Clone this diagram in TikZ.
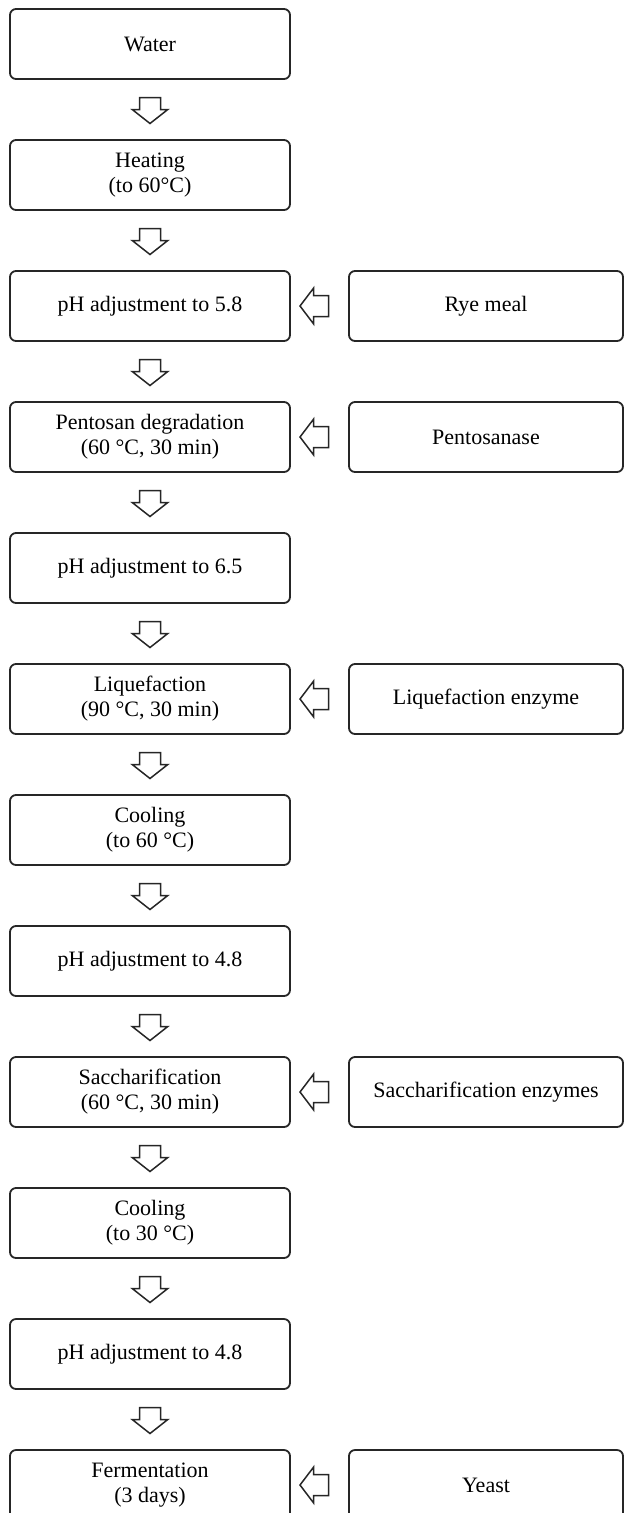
\documentclass[tikz,border=0pt]{standalone}
\usepackage{fontspec}
\setmainfont{Liberation Serif}
\usepackage{tikz}
\usetikzlibrary{positioning,calc}

\tikzset{
  stepbox/.style={draw=black!85, rounded corners=6pt, line width=1.8pt, minimum width=280pt,
    minimum height=70pt, align=center, inner sep=2pt, outer sep=0pt,
    font=\fontsize{22}{25}\selectfont},
  addbox/.style={stepbox, minimum width=274pt},
  blockarrow/.style={draw=black!85, line width=1.5pt, fill=white, line join=miter}
}

% hollow arrow from one step down to the next
\newcommand{\stepdown}[2]{%
  \draw[blockarrow] ($(#1.south)!0.5!(#2.north)$)
    +(-10.5,12) -- +(10.5,12) -- +(10.5,0) -- +(17.8,0) -- +(0,-14)
    -- +(-17.8,0) -- +(-10.5,0) -- cycle;}
% hollow arrow from an added input into its step
\newcommand{\feedin}[2]{%
  \draw[blockarrow] ($(#1.west)!0.5!(#2.east)$)
    +(9,10.5) -- +(9,-10.5) -- +(-6,-10.5) -- +(-6,-17.8) -- +(-19.5,0)
    -- +(-6,17.8) -- +(-6,10.5) -- cycle;}

\begin{document}
\begin{tikzpicture}[x=1pt, y=1pt, node distance=61pt]
  \useasboundingbox (0,0) rectangle (624,-1513);

  % Main process steps
  \node[stepbox] (water) at (150,-44) {Water};
  \node[stepbox, below=of water] (heat) {Heating\\(to 60°C)};
  \node[stepbox, below=of heat] (ph1) {pH adjustment to 5.8};
  \node[stepbox, below=of ph1] (pent) {Pentosan degradation\\(60 °C, 30 min)};
  \node[stepbox, below=of pent] (ph2) {pH adjustment to 6.5};
  \node[stepbox, below=of ph2] (liq) {Liquefaction\\(90 °C, 30 min)};
  \node[stepbox, below=of liq] (cool1) {Cooling\\(to 60 °C)};
  \node[stepbox, below=of cool1] (ph3) {pH adjustment to 4.8};
  \node[stepbox, below=of ph3] (sac) {Saccharification\\(60 °C, 30 min)};
  \node[stepbox, below=of sac] (cool2) {Cooling\\(to 30 °C)};
  \node[stepbox, below=of cool2] (ph4) {pH adjustment to 4.8};
  \node[stepbox, below=of ph4] (ferm) {Fermentation\\(3 days)};

  % Added inputs
  \node[addbox, right=59pt of ph1] (rye) {Rye meal};
  \node[addbox, right=59pt of pent] (pentase) {Pentosanase};
  \node[addbox, right=59pt of liq] (liqenz) {Liquefaction enzyme};
  \node[addbox, right=59pt of sac] (sacenz) {Saccharification enzymes};
  \node[addbox, right=59pt of ferm] (yeast) {Yeast};

  % Arrows between steps
  \stepdown{water}{heat}
  \stepdown{heat}{ph1}
  \stepdown{ph1}{pent}
  \stepdown{pent}{ph2}
  \stepdown{ph2}{liq}
  \stepdown{liq}{cool1}
  \stepdown{cool1}{ph3}
  \stepdown{ph3}{sac}
  \stepdown{sac}{cool2}
  \stepdown{cool2}{ph4}
  \stepdown{ph4}{ferm}

  % Arrows from inputs
  \feedin{rye}{ph1}
  \feedin{pentase}{pent}
  \feedin{liqenz}{liq}
  \feedin{sacenz}{sac}
  \feedin{yeast}{ferm}
\end{tikzpicture}
\end{document}
